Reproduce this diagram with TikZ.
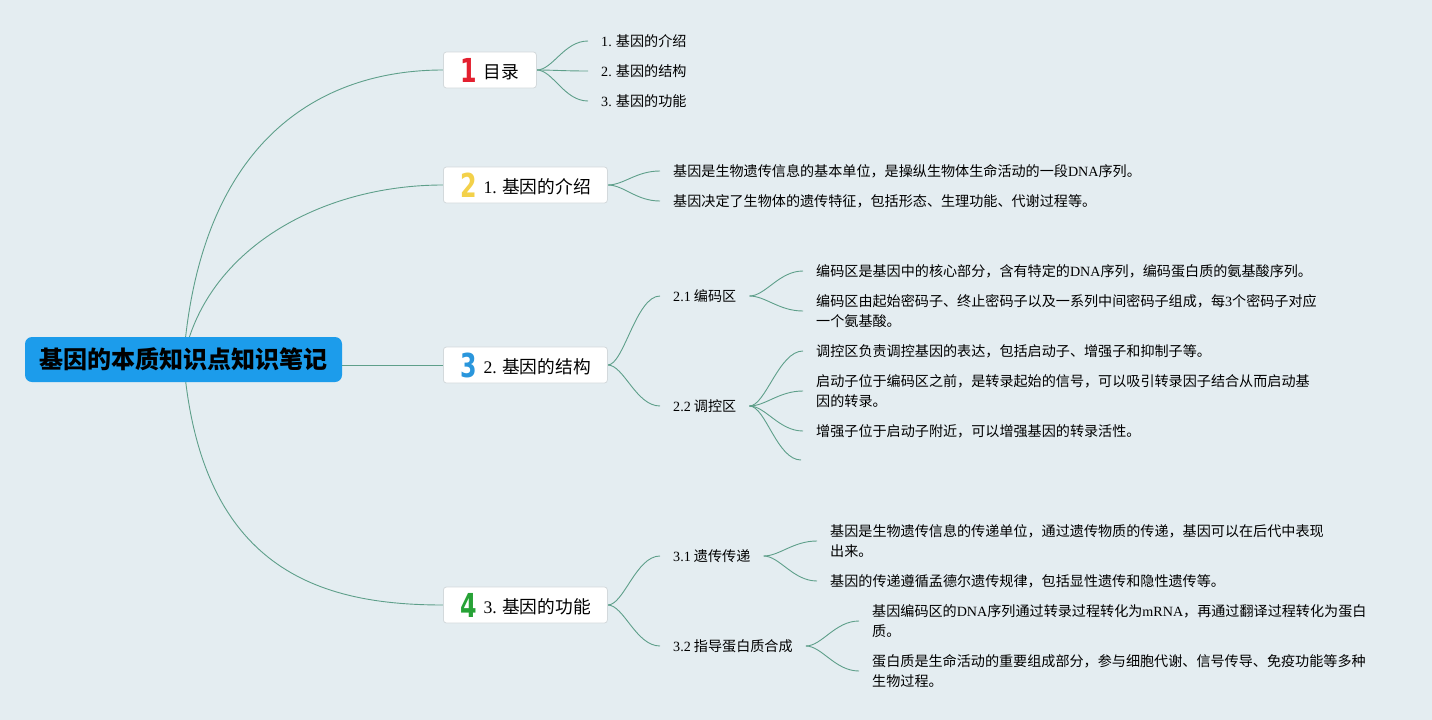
\documentclass[tikz,border=0pt]{standalone}
\usepackage{fontspec}
\setmainfont{Noto Sans CJK SC}
\newfontfamily\lat{Liberation Serif}
\newfontfamily\iconf{DejaVu Sans}
\definecolor{bgc}{HTML}{E4EDF1}
\definecolor{rootc}{HTML}{1C9CEB}
\definecolor{linkc}{HTML}{5E9F8A}
\definecolor{boxline}{HTML}{D3D9DC}
\definecolor{ired}{HTML}{E3202F}
\definecolor{iyel}{HTML}{F3D14A}
\definecolor{iblu}{HTML}{2A96DC}
\definecolor{igrn}{HTML}{27A236}
\newcommand{\leaffont}{\fontsize{14.1}{20}\selectfont}
\newcommand{\topicfont}{\fontsize{17.7}{20}\selectfont}
\newcommand{\icn}[2]{\raisebox{-4pt}{\scalebox{0.72}[1]{\iconf\bfseries\fontsize{33}{33}\selectfont\color{#1}#2}}\hspace{7pt}}
\pgfdeclarelayer{bgfill}
\pgfdeclarelayer{links}
\pgfsetlayers{bgfill,links,main}
\tikzset{
  rootbox/.style={fill=rootc, rounded corners=7pt, minimum width=317pt, minimum height=45pt,
    font=\fontsize{24}{26}\selectfont\bfseries, text=black, inner sep=0pt},
  topic/.style={draw=boxline, fill=white, line width=0.8pt, rounded corners=3pt,
    minimum height=36pt, inner sep=0pt, font=\topicfont, anchor=west},
  leaf/.style={anchor=west, inner xsep=13pt, inner ysep=2pt, align=left, font=\leaffont},
  link/.style={draw=linkc, line width=0.9pt},
}
\begin{document}
\begin{tikzpicture}[x=1pt,y=-1pt]
\begin{pgfonlayer}{bgfill}
\fill[bgc] (0,0) rectangle (1432,720);
\end{pgfonlayer}
\useasboundingbox (0,0) rectangle (1432,720);

% root
\node[rootbox] (root) at (183.5,359.5) {基因的本质知识点知识笔记};

% topics
\node[topic, minimum width=93pt]  (t1) at (443,70)  {\icn{ired}{1}目录};
\node[topic, minimum width=164pt] (t2) at (443,185) {\icn{iyel}{2}{\lat 1.} 基因的介绍};
\node[topic, minimum width=164pt] (t3) at (443,365) {\icn{iblu}{3}{\lat 2.} 基因的结构};
\node[topic, minimum width=164pt] (t4) at (443,605) {\icn{igrn}{4}{\lat 3.} 基因的功能};

% topic 1 children
\node[leaf] (c11) at (588,41)  {{\lat 1.} 基因的介绍};
\node[leaf] (c12) at (588,71)  {{\lat 2.} 基因的结构};
\node[leaf] (c13) at (588,101) {{\lat 3.} 基因的功能};

% topic 2 children
\node[leaf] (c21) at (660,171) {基因是生物遗传信息的基本单位，是操纵生物体生命活动的一段{\lat DNA}序列。};
\node[leaf] (c22) at (660,201) {基因决定了生物体的遗传特征，包括形态、生理功能、代谢过程等。};

% topic 3 children
\node[leaf] (s21) at (660,296) {{\lat 2.1} 编码区};
\node[leaf] (s22) at (660,406) {{\lat 2.2} 调控区};
\node[leaf] (l211) at (803,271) {编码区是基因中的核心部分，含有特定的{\lat DNA}序列，编码蛋白质的氨基酸序列。};
\node[leaf] (l212) at (803,311) {编码区由起始密码子、终止密码子以及一系列中间密码子组成，每{\lat 3}个密码子对应\\一个氨基酸。};
\node[leaf] (l221) at (803,351) {调控区负责调控基因的表达，包括启动子、增强子和抑制子等。};
\node[leaf] (l222) at (803,391) {启动子位于编码区之前，是转录起始的信号，可以吸引转录因子结合从而启动基\\因的转录。};
\node[leaf] (l223) at (803,431) {增强子位于启动子附近，可以增强基因的转录活性。};
\coordinate (l224) at (801,460);

% topic 4 children
\node[leaf] (s31) at (660,556) {{\lat 3.1} 遗传传递};
\node[leaf] (s32) at (660,646) {{\lat 3.2} 指导蛋白质合成};
\node[leaf] (l311) at (817,541) {基因是生物遗传信息的传递单位，通过遗传物质的传递，基因可以在后代中表现\\出来。};
\node[leaf] (l312) at (817,581) {基因的传递遵循孟德尔遗传规律，包括显性遗传和隐性遗传等。};
\node[leaf] (l321) at (859,621) {基因编码区的{\lat DNA}序列通过转录过程转化为{\lat mRNA}，再通过翻译过程转化为蛋白\\质。};
\node[leaf] (l322) at (859,671) {蛋白质是生命活动的重要组成部分，参与细胞代谢、信号传导、免疫功能等多种\\生物过程。};

\begin{pgfonlayer}{links}
% root links
\draw[link] (root.center) .. controls (200,140) and (320,70) .. (t1.west);
\draw[link] (root.center) .. controls (205,250) and (320,185) .. (t2.west);
\draw[link] (root.center |- t3.west) -- (t3.west);
\draw[link] (root.center) .. controls (200,570) and (320,605) .. (t4.west);
% sub links
\foreach \a/\b in {t1/c11,t1/c12,t1/c13,t2/c21,t2/c22,t3/s21,t3/s22,t4/s31,t4/s32,
  s21/l211,s21/l212,s22/l221,s22/l222,s22/l223,s31/l311,s31/l312,s32/l321,s32/l322}
  \draw[link] (\a.east) .. controls +(16,0) and +(-24,0) .. (\b.west);
\draw[link] (s22.east) .. controls +(16,0) and +(-24,0) .. (l224);
\end{pgfonlayer}
\end{tikzpicture}
\end{document}
